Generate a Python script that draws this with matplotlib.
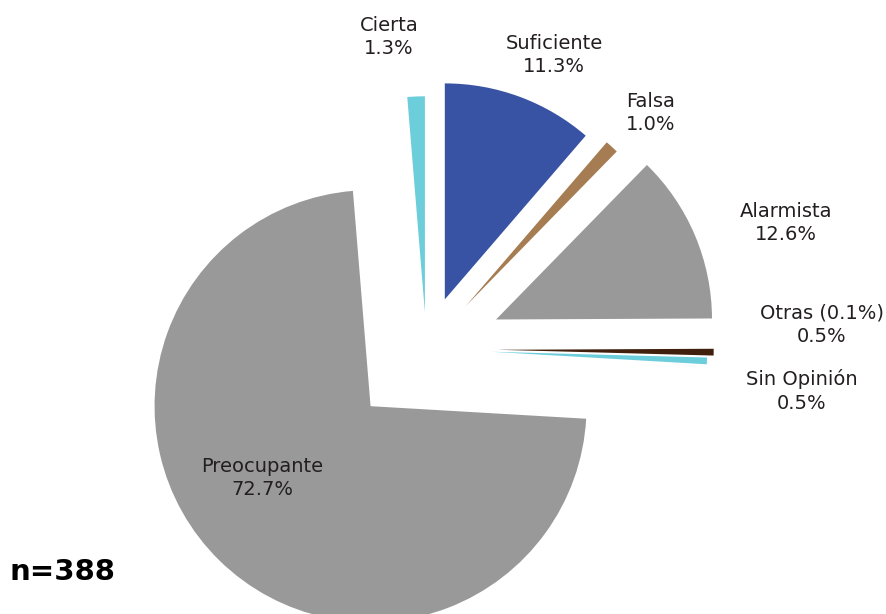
import matplotlib.pyplot as plt

# Survey answers, clockwise from 12 o'clock
labels = ["Suficiente", "Falsa", "Alarmista", "Otras (0.1%)", "Sin Opinión", "Preocupante", "Cierta"]
shares = [11.3, 1.0, 12.6, 0.5, 0.5, 72.7, 1.3]
n_total = 388

colors = ["#3953a4", "#a67c52", "#999999", "#40200c", "#6ccddb", "#999999", "#6ccddb"]
explode = [0.245, 0.27, 0.35, 0.33, 0.3, 0.37, 0.17]

# label centres in pixels (x, y from top)
label_pos = [(554, 55), (651, 113), (786, 223), (822, 325), (802, 391), (262, 478), (389, 37)]

W, H = 886, 614
R = 216.0           # pie radius in pixels
cx, cy = 426.4, 349.0  # pie centre in pixels (from top)

fig = plt.figure(figsize=(W / 100, H / 100), dpi=100)
ax = fig.add_axes([0, 0, 1, 1])

ax.pie(shares, colors=colors, explode=explode, startangle=90, counterclock=False,
       radius=1, wedgeprops=dict(linewidth=0))

ax.set_xlim(-cx / R, (W - cx) / R)
ax.set_ylim(-(H - cy) / R, cy / R)
ax.set_aspect("auto")
ax.axis("off")

txt_color = "#231f20"
for lab, val, (px, py) in zip(labels, shares, label_pos):
    fig.text(px / W, 1 - py / H, f"{lab}\n{val:.1f}%", ha="center", va="center",
             fontsize=14, color=txt_color, linespacing=1.3)

fig.text(10 / W, 1 - 572 / H, f"n={n_total}", ha="left", va="center",
         fontsize=21, fontweight="bold", color="black")

fig.savefig("out.png", dpi=100)
